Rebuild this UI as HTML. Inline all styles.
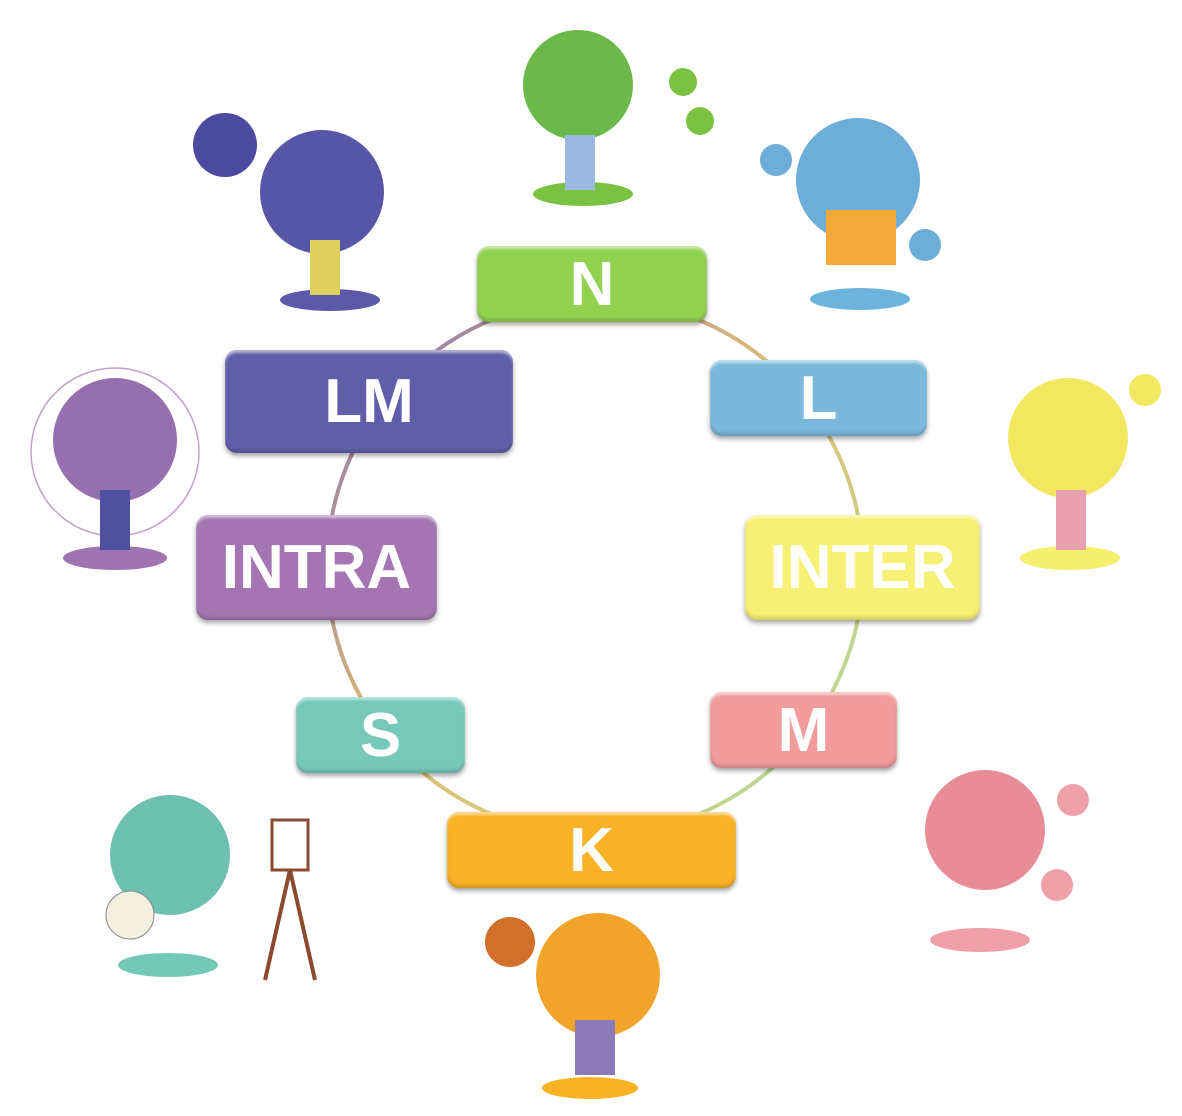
<!DOCTYPE html>
<html><head><meta charset="utf-8"><style>
body{margin:0;width:1182px;height:1116px;background:#fff;position:relative;overflow:hidden;font-family:"Liberation Sans",sans-serif}
.b{position:absolute;border-radius:12px;color:#fff;font-weight:bold;display:flex;align-items:center;justify-content:center;box-shadow:0 3px 5px rgba(0,0,0,.35), inset 0 3px 2px rgba(255,255,255,.5), inset 0 -3px 3px rgba(0,0,0,.15);font-size:62px}
svg{position:absolute;left:0;top:0}
</style></head><body>
<svg width="1182" height="1116">
<defs><linearGradient id="g" x1="0" y1="0" x2="1" y2="1">
<stop offset="0" stop-color="#8a6fb5"/><stop offset=".5" stop-color="#e0c070"/><stop offset="1" stop-color="#b0e0a0"/></linearGradient></defs>
<circle cx="595" cy="567" r="268" fill="none" stroke="url(#g)" stroke-width="4"/>
<!-- characters -->
<g>
<ellipse cx="583" cy="194" rx="50" ry="12" fill="#7cc242"/><circle cx="578" cy="85" r="55" fill="#6cb84a"/><rect x="565" y="135" width="30" height="55" fill="#9ab8e0"/>
<circle cx="683" cy="82" r="14" fill="#7cc242"/><circle cx="700" cy="121" r="14" fill="#7cc242"/>
<ellipse cx="330" cy="300" rx="50" ry="11" fill="#5a5aa8"/><circle cx="322" cy="192" r="62" fill="#5656a8"/><rect x="310" y="240" width="30" height="55" fill="#e0d060"/>
<circle cx="225" cy="145" r="32" fill="#4a4a9e"/>
<ellipse cx="860" cy="299" rx="50" ry="11" fill="#6cb4dc"/><circle cx="858" cy="180" r="62" fill="#6caed8"/><rect x="826" y="210" width="70" height="55" fill="#f2a93a"/>
<circle cx="776" cy="160" r="16" fill="#6caed8"/><circle cx="925" cy="245" r="16" fill="#6caed8"/>
<ellipse cx="115" cy="558" rx="52" ry="12" fill="#a074b0"/><circle cx="115" cy="452" r="84" fill="none" stroke="#c0a0c8" stroke-width="1.5"/><circle cx="115" cy="440" r="62" fill="#9670ae"/><rect x="100" y="490" width="30" height="60" fill="#5050a0"/>
<ellipse cx="1070" cy="558" rx="50" ry="12" fill="#f5ef6e"/><circle cx="1068" cy="438" r="60" fill="#f2e860"/><rect x="1056" y="490" width="30" height="60" fill="#e8a0b0"/>
<circle cx="1145" cy="390" r="16" fill="#f2e860"/>
<ellipse cx="168" cy="965" rx="50" ry="12" fill="#74c8b8"/><circle cx="170" cy="855" r="60" fill="#6cc0b0"/><circle cx="130" cy="915" r="24" fill="#f4f0e0" stroke="#888"/>
<rect x="272" y="820" width="36" height="50" fill="#fff" stroke="#8a4a30" stroke-width="3"/><path d="M290 870 L265 980 M290 870 L315 980" stroke="#8a4a30" stroke-width="4"/>
<ellipse cx="980" cy="940" rx="50" ry="12" fill="#f0a0a8"/><circle cx="985" cy="830" r="60" fill="#e88c98"/><circle cx="1073" cy="800" r="16" fill="#f0a0a8"/><circle cx="1057" cy="885" r="16" fill="#f0a0a8"/>
<ellipse cx="590" cy="1088" rx="48" ry="11" fill="#f9b224"/><circle cx="598" cy="975" r="62" fill="#f2a42a"/><circle cx="510" cy="942" r="25" fill="#d0702a"/><rect x="575" y="1020" width="40" height="55" fill="#8a7ab8"/>
</g>
</svg>
<div class="b" style="left:477px;top:246px;width:230px;height:76px;background:#92d050">N</div>
<div class="b" style="left:710px;top:360px;width:217px;height:76px;background:#7ab9db">L</div>
<div class="b" style="left:745px;top:515px;width:235px;height:105px;background:#f6f075">INTER</div>
<div class="b" style="left:710px;top:692px;width:187px;height:76px;background:#f19b9b">M</div>
<div class="b" style="left:447px;top:812px;width:289px;height:76px;background:#f9b126">K</div>
<div class="b" style="left:296px;top:697px;width:169px;height:76px;background:#76c9b9">S</div>
<div class="b" style="left:196px;top:515px;width:241px;height:105px;background:#a575b3">INTRA</div>
<div class="b" style="left:225px;top:350px;width:288px;height:103px;background:#5f5fa9">LM</div>
</body></html>
